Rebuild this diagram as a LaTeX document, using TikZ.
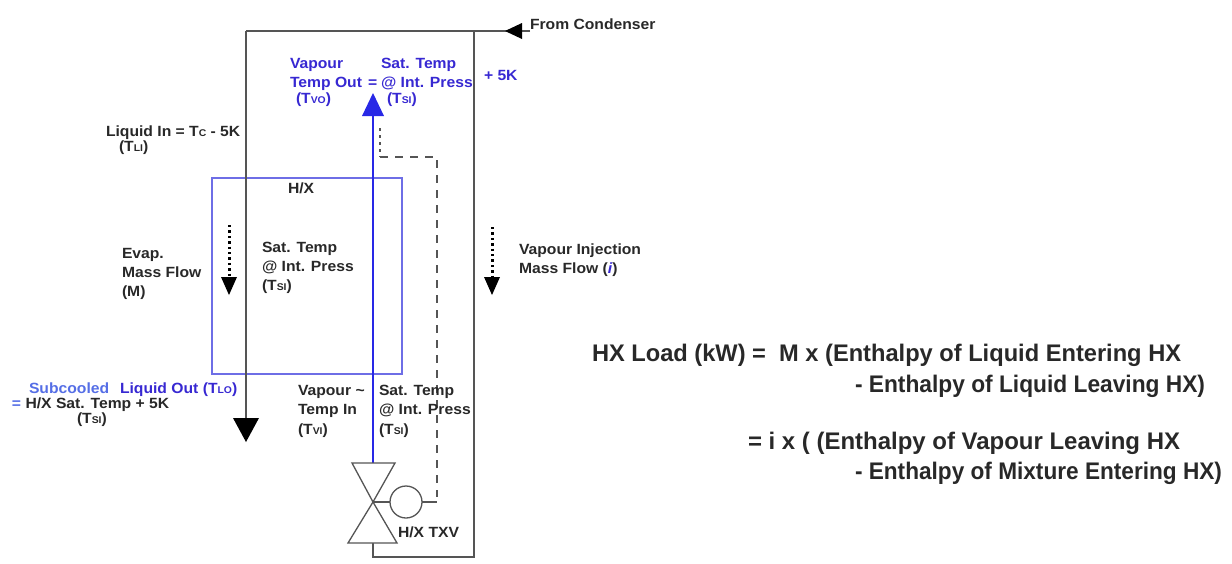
\documentclass[tikz,border=0pt]{standalone}
\usepackage{fontspec}
\setmainfont{Liberation Sans}
\newfontfamily\lblfam{Liberation Sans}[FakeStretch=1.06]
\usepackage{graphicx}
\usetikzlibrary{arrows.meta}
\definecolor{txt}{RGB}{40,40,40}
\definecolor{bluetxt}{RGB}{55,40,210}
\definecolor{lightblue}{RGB}{85,110,230}
\definecolor{hxblue}{RGB}{110,110,230}
\definecolor{lineblue}{RGB}{40,40,230}
\definecolor{pipe}{RGB}{85,85,85}
\newcommand\lblfont{\lblfam\fontsize{14.8}{17}\selectfont\bfseries}
\newcommand\sbc[1]{{\fontsize{9.8}{10}\selectfont #1}}
\newcommand\eqfont{\fontsize{24}{26}\selectfont\bfseries}
\newcommand\lab[4]{\node[lbl] (#1) at (#2,#3) {#4};}
\newcommand\eqline[5]{\node[lbl,font=\eqfont] (#1) at (#2,#3) {\resizebox{#4pt}{\height}{#5}};}
\begin{document}
\begin{tikzpicture}[x=1pt,y=-1pt,
  lbl/.style={inner sep=0pt, outer sep=0pt, anchor=base west, font=\lblfont, text=txt},
  pipeline/.style={draw=pipe, line width=1.4pt},
  toppipe/.style={draw=pipe, line width=2.4pt},
  valvepart/.style={draw=pipe, line width=1.3pt, fill=white, line join=miter},
  dotarrow/.style={draw=black, line width=3pt, dash pattern=on 2.4pt off 3pt}
]
\useasboundingbox (0,0) rectangle (1232,563);

% ---------- coordinates ----------
\coordinate (tl) at (246,31);
\coordinate (tr) at (530,31);
\coordinate (ta) at (505,31);
\coordinate (rt) at (474,31);
\coordinate (rb) at (474,557);
\coordinate (vbb) at (373,557);
\coordinate (vbot) at (373,543);
\coordinate (ltip) at (246,442);
\coordinate (vtop) at (373,463);
\coordinate (btip) at (373,93);
\coordinate (vc) at (373,502);
\coordinate (bulbL) at (390,502);
\coordinate (bulbR) at (422,502);
\coordinate (sensE) at (437,502);
\coordinate (d0) at (380,128);
\coordinate (d1) at (380,157);
\coordinate (d2) at (437,157);

% ---------- H/X box ----------
\draw[draw=hxblue, line width=1.3pt] (212,178) rectangle (402,374);

% ---------- pipes ----------
\draw[toppipe] (tr) -- (tl);
\draw[pipeline] (tl) -- (246,420);
\fill[black] (ltip) -- (233,418) -- (259,418) -- cycle;
\fill[black] (ta) -- (522,23) -- (522,39) -- cycle;
\draw[pipeline] (rt) -- (rb) -- (vbb) -- (vbot);

% blue vapour line
\draw[draw=lineblue, line width=1.4pt] (vtop) -- (373,114);
\fill[lineblue] (btip) -- (362,116) -- (384,116) -- cycle;

% dashed sensing line
\draw[draw=pipe, line width=1.2pt, dash pattern=on 3pt off 4pt] (d0) -- (d1);
\draw[draw=pipe, line width=1.5pt, dash pattern=on 8pt off 7pt] (d1) -- (d2) -- (437,497);

% valve
\draw[valvepart] (352,463) -- (395,463) -- (vc) -- cycle;
\draw[valvepart] (vc) -- (348,543) -- (397,543) -- cycle;
\draw[pipeline] (vc) -- (bulbL);
\draw[pipeline] (bulbR) -- (sensE);
\draw[valvepart] (406,502) circle[radius=16];

% dotted flow arrows
\draw[dotarrow] (229,225) -- (229,277);
\fill[black] (229,295) -- (221,277) -- (237,277) -- cycle;
\draw[dotarrow] (492,227) -- (492,277);
\fill[black] (492,295) -- (484,277) -- (500,277) -- cycle;

% ---------- labels ----------
\lab{fc}{530}{29}{From Condenser}
\lab{vto1}{290}{68}{\color{bluetxt}Vapour}
\lab{vto2}{290}{87}{\color{bluetxt}Temp Out}
\lab{vto3}{296}{103}{\color{bluetxt}(T\sbc{VO})}
\lab{eqa}{368}{87}{\color{bluetxt}=}
\lab{st1}{381}{68}{\color{bluetxt}Sat. Temp}
\lab{st2}{381}{87}{\color{bluetxt}@ Int. Press}
\lab{st3}{387}{103}{\color{bluetxt}(T\sbc{SI})}
\lab{p5}{484}{80}{\color{bluetxt}+ 5K}

\lab{li1}{106}{136}{Liquid In = T\sbc{C} - 5K}
\lab{li2}{119}{151}{(T\sbc{LI})}

\lab{hx}{288}{193}{H/X}

\lab{ev1}{122}{258}{Evap.}
\lab{ev2}{122}{277}{Mass Flow}
\lab{ev3}{122}{296}{(M)}

\lab{sm1}{262}{252}{Sat. Temp}
\lab{sm2}{262}{271}{@ Int. Press}
\lab{sm3}{262}{290}{(T\sbc{SI})}

\lab{vi1}{519}{254}{Vapour Injection}
\lab{vi2}{519}{273}{Mass Flow ({\color{bluetxt}\itshape i})}

\lab{sc1}{29}{393}{\color{lightblue}Subcooled}
\lab{sc1b}{120}{393}{\color{bluetxt}Liquid Out (T\sbc{LO})}
\lab{sc2}{12}{408}{{\color{lightblue}=} H/X Sat. Temp + 5K}
\lab{sc3}{77}{423}{(T\sbc{SI})}

\lab{vin1}{298}{395}{Vapour \textasciitilde}
\lab{vin2}{298}{414}{Temp In}
\lab{vin3}{298}{434}{(T\sbc{VI})}

\lab{sb1}{379}{395}{Sat. Temp}
\lab{sb2}{379}{414}{@ Int. Press}
\lab{sb3}{379}{434}{(T\sbc{SI})}

\lab{txv}{398}{537}{H/X TXV}

% ---------- equation ----------
\eqline{e1}{592}{361}{589}{HX Load (kW) =\ \ M x (Enthalpy of Liquid Entering HX}
\eqline{e2}{855}{392}{350}{- Enthalpy of Liquid Leaving HX)}
\eqline{e3}{748}{449}{432}{= i x ( (Enthalpy of Vapour Leaving HX}
\eqline{e4}{855}{479}{367}{- Enthalpy of Mixture Entering HX)}
\end{tikzpicture}
\end{document}
